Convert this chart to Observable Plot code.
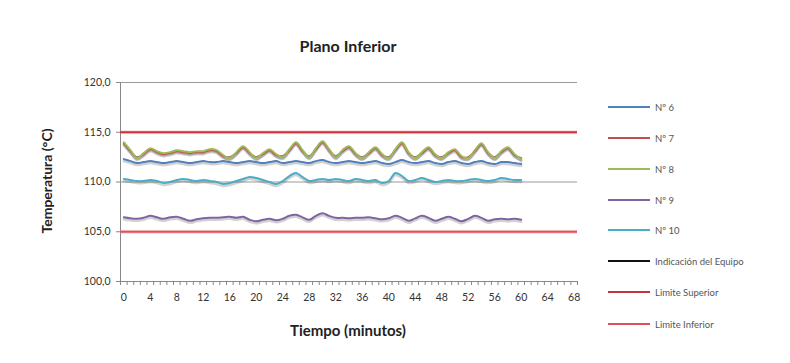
<!DOCTYPE html>
<html>
<head>
<meta charset="utf-8">
<script src="https://cdn.jsdelivr.net/npm/d3@7"></script>
<script src="https://cdn.jsdelivr.net/npm/@observablehq/plot@0.6"></script>
<style>
  html, body { margin: 0; padding: 0; background: #fff; }
  #wrap { position: relative; width: 790px; height: 363px; font-family: Lato, "Open Sans", sans-serif; }
  #chart { position: absolute; left: 0; top: 0; }
  .abs { position: absolute; white-space: nowrap; }
  #title { left: 348px; top: 45px; transform: translate(-50%, -50%); font-weight: bold; font-size: 16px; color: #222; }
  #ytitle { left: 46px; top: 181px; transform: translate(-50%, -50%) rotate(-90deg); font-weight: bold; font-size: 14px; color: #222; }
  #xtitle { left: 348px; top: 330px; transform: translate(-50%, -50%); font-weight: bold; font-size: 15px; color: #222; }
  .leg { position: absolute; left: 608px; height: 14px; display: flex; align-items: center; font-size: 9.5px; color: #555; }
  .leg span.sw { display: inline-block; width: 42px; height: 2px; margin-right: 5px; }
</style>
</head>
<body>
<div id="wrap">
  <div id="chart"></div>
  <div id="title" class="abs">Plano Inferior</div>
  <div id="ytitle" class="abs">Temperatura (°C)</div>
  <div id="xtitle" class="abs">Tiempo (minutos)</div>
  <div id="legend"></div>
</div>
<script>
// ---- data ----
const minutes = d3.range(0, 61);
const xTickLabels = [0, 4, 8, 12, 16, 20, 24, 28, 32, 36, 40, 44, 48, 52, 56, 60, 64, 68];
const yTicks = [100, 105, 110, 115, 120];
const seriesNames = ["Nº 6", "Nº 7", "Nº 8", "Nº 9", "Nº 10", "Indicación del Equipo", "Limite Superior", "Limite Inferior"];
const seriesColors = ["#4F81BD", "#C0504D", "#9BBB59", "#8064A2", "#4BACC6", "#111111", "#C8323C", "#E0505A"];

const n6 = [112.3,112.1,111.9,112.0,112.1,112.0,111.9,112.0,112.1,112.0,111.9,112.0,112.1,112.0,112.0,112.1,112.0,111.9,112.0,112.1,112.0,111.9,112.0,112.1,111.9,112.0,112.1,112.0,111.9,112.1,112.2,112.0,111.9,112.0,112.1,112.0,111.9,112.0,112.1,111.9,111.8,112.0,112.2,112.0,111.9,112.0,112.1,111.9,111.8,112.0,112.1,111.9,111.8,112.0,112.1,111.9,111.8,112.0,112.0,111.9,111.8];
const n7 = [113.9,113.1,112.5,112.8,113.3,113.0,112.8,112.9,113.1,113.0,112.9,113.0,113.0,113.2,113.1,112.6,112.5,112.9,113.5,112.9,112.5,112.8,113.2,112.7,112.6,113.2,113.9,113.1,112.6,113.3,114.0,113.2,112.6,113.1,113.5,112.8,112.5,112.9,113.4,112.7,112.5,113.2,113.9,112.9,112.5,112.9,113.4,112.7,112.5,112.9,113.2,112.5,112.5,113.1,113.8,112.9,112.5,113.0,113.4,112.7,112.4];
const n8 = [114.0,113.2,112.4,112.9,113.4,113.1,112.9,113.0,113.2,113.1,113.0,113.1,113.1,113.3,113.2,112.7,112.4,113.0,113.6,113.0,112.4,112.9,113.3,112.8,112.5,113.3,114.0,113.2,112.5,113.4,114.1,113.3,112.5,113.2,113.6,112.9,112.4,113.0,113.5,112.8,112.4,113.3,114.0,113.0,112.4,113.0,113.5,112.8,112.4,113.0,113.3,112.6,112.4,113.2,113.9,113.0,112.4,113.1,113.5,112.8,112.3];
const n9 = [106.45,106.35,106.3,106.4,106.6,106.45,106.3,106.45,106.5,106.3,106.1,106.25,106.35,106.4,106.4,106.45,106.5,106.4,106.5,106.2,106.05,106.2,106.3,106.15,106.3,106.6,106.7,106.45,106.2,106.6,106.85,106.6,106.4,106.4,106.35,106.4,106.4,106.45,106.35,106.25,106.35,106.6,106.4,106.1,106.35,106.6,106.4,106.1,106.3,106.5,106.3,106.05,106.3,106.6,106.4,106.1,106.25,106.3,106.25,106.3,106.2];
const n10 = [110.3,110.2,110.1,110.1,110.2,110.1,109.9,110.0,110.2,110.3,110.2,110.1,110.2,110.1,110.0,109.8,109.9,110.1,110.3,110.5,110.4,110.2,110.0,109.8,110.1,110.6,110.9,110.5,110.1,110.2,110.3,110.2,110.3,110.2,110.1,110.3,110.2,110.1,110.2,109.9,110.1,110.9,110.6,110.1,110.2,110.4,110.2,110.0,110.1,110.2,110.1,110.1,110.2,110.3,110.2,110.1,110.2,110.4,110.3,110.2,110.2];
const limiteSuperior = [115];
const limiteInferior = [105];

// ---- build table ----
const seriesValues = [n6, n7, n8, n9, n10];
const rows = [];
seriesValues.forEach((vals, si) => {
  vals.forEach((v, i) => rows.push({ serie: seriesNames[si], t: minutes[i], v }));
});
const color = Plot.scale({ color: { domain: seriesNames, range: seriesColors } });

const catBounds = d3.range(-0.5, 69, 1);
const fmt = d => d.toFixed(1).replace(".", ",");

const plot = Plot.plot({
  width: 790,
  height: 363,
  marginLeft: 120,
  marginRight: 213,
  marginTop: 82,
  marginBottom: 82,
  style: { fontFamily: "Lato, 'Open Sans', sans-serif", fontSize: "10.5px", color: "#333", background: "transparent" },
  x: { domain: [-0.5, 68.5], axis: null, label: null },
  y: { domain: [100, 120], axis: null, label: null },
  marks: [
    Plot.ruleY([110, 120], { stroke: "#9a9a9a", strokeWidth: 1 }),
    Plot.axisY(yTicks, { tickSize: 4, tickPadding: 6, tickFormat: fmt, stroke: "#888", fill: "#333", fontSize: 10.5, label: null }),
    Plot.ruleY([100], { stroke: "#888" }),
    Plot.ruleX([-0.5], { y1: 100, y2: 120, stroke: "#888" }),
    Plot.axisX(catBounds, { tickSize: 4, tickFormat: () => "", stroke: "#888", label: null }),
    Plot.axisX(xTickLabels, { tickSize: 0, tickPadding: 12, fill: "#333", fontSize: 10.5, label: null }),
    // limit lines
    Plot.ruleY(limiteSuperior, { x1: -0.5, x2: 68.5, stroke: "#f08a90", strokeWidth: 4, strokeOpacity: 0.35 }),
    Plot.ruleY(limiteSuperior, { x1: -0.5, x2: 68.5, stroke: color.apply("Limite Superior"), strokeWidth: 2 }),
    Plot.ruleY(limiteInferior, { x1: -0.5, x2: 68.5, stroke: "#f08a90", strokeWidth: 4, strokeOpacity: 0.35 }),
    Plot.ruleY(limiteInferior, { x1: -0.5, x2: 68.5, stroke: color.apply("Limite Inferior"), strokeWidth: 2 }),
    // shadows
    Plot.line(rows, { x: "t", y: "v", z: "serie", stroke: "#000", strokeOpacity: 0.18, strokeWidth: 2.5, dy: 2, curve: "catmull-rom" }),
    // series
    Plot.line(rows, { x: "t", y: "v", z: "serie", stroke: d => color.apply(d.serie), strokeWidth: 2, curve: "catmull-rom" })
  ]
});
document.getElementById("chart").appendChild(plot);

// ---- legend ----
const legendTops = [100, 131, 162, 193, 223, 254, 285, 317];
const leg = document.getElementById("legend");
seriesNames.forEach((name, i) => {
  const d = document.createElement("div");
  d.className = "leg";
  d.style.top = legendTops[i] + "px";
  const sw = document.createElement("span");
  sw.className = "sw";
  sw.style.background = seriesColors[i];
  d.appendChild(sw);
  d.appendChild(document.createTextNode(name));
  leg.appendChild(d);
});
</script>
</body>
</html>
